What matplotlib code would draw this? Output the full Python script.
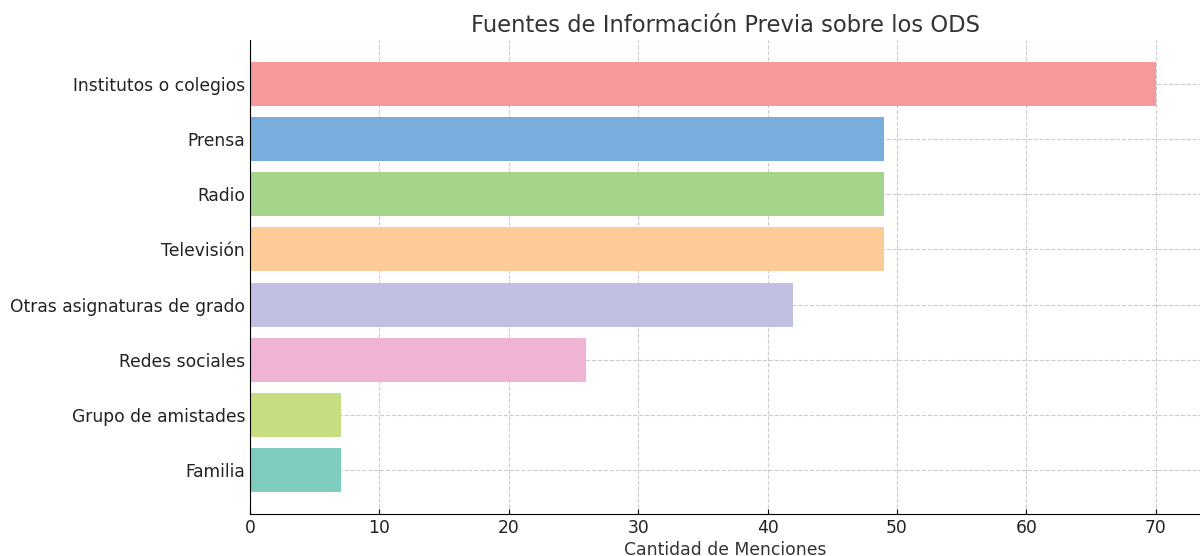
import matplotlib.pyplot as plt

categories = ['Institutos o colegios', 'Prensa', 'Radio', 'Televisión',
              'Otras asignaturas de grado', 'Redes sociales', 'Grupo de amistades', 'Familia']
values = [70, 49, 49, 49, 42, 26, 7, 7]
colors = ['#F7999A', '#79ADDE', '#A7D48B', '#FDCB98', '#C1C0E2', '#EFB4D4', '#C6DE80', '#7FCDBE']

fig = plt.figure(figsize=(12, 5.56), dpi=100)
ax = fig.add_axes([250 / 1200, 42 / 556, 951 / 1200, 474 / 556])

ax.barh(categories, values, color=colors, height=0.8, zorder=2)
ax.invert_yaxis()
ax.set_xlim(0, 73.5)

ax.set_title('Fuentes de Información Previa sobre los ODS', fontsize=16.3, color='#333333')
ax.set_xlabel('Cantidad de Menciones', fontsize=12.4, color='#333333', labelpad=3)
ax.tick_params(direction='in', labelsize=12.3, labelcolor='#222222')
ax.grid(True, linestyle='--', color='#cccccc', linewidth=0.8, zorder=0)
ax.set_axisbelow(True)
ax.spines['top'].set_visible(False)
ax.spines['right'].set_visible(False)

fig.savefig('out.png', dpi=100)
